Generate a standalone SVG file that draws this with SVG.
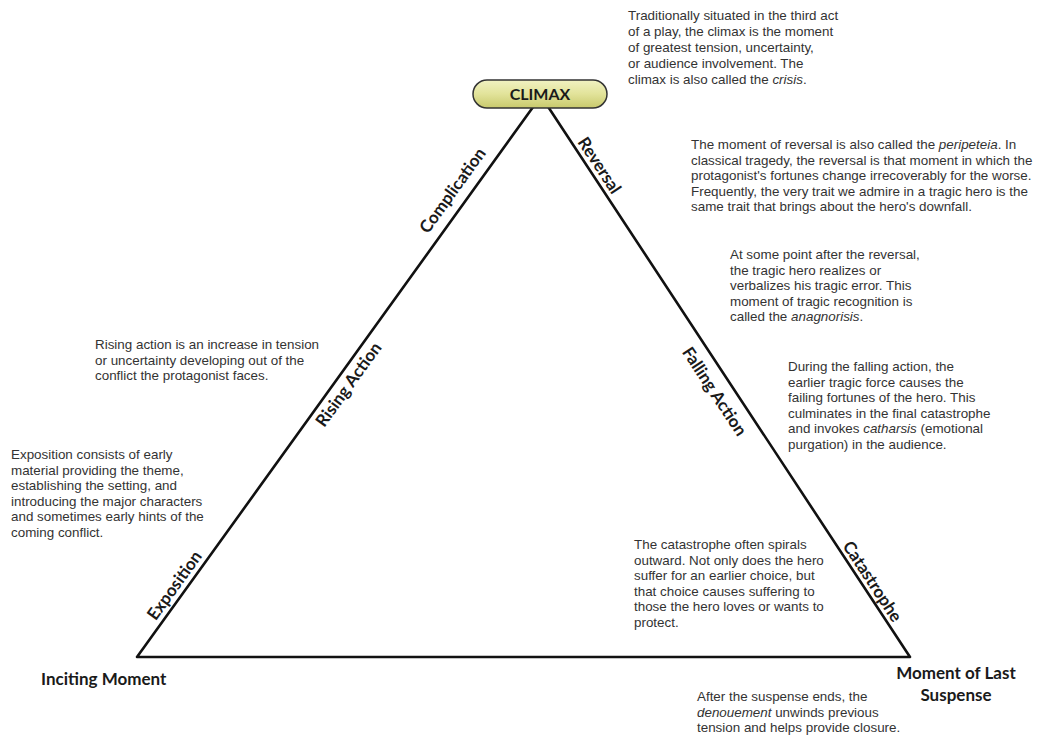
<svg xmlns="http://www.w3.org/2000/svg" width="1042" height="738" viewBox="0 0 1042 738">
<defs>
<linearGradient id="pill" x1="0" y1="0" x2="0" y2="1">
<stop offset="0" stop-color="#f1f2c2"/>
<stop offset="0.5" stop-color="#e2e39a"/>
<stop offset="1" stop-color="#c8c96c"/>
</linearGradient>
<style>
.edge{stroke:#111;stroke-width:2.6;fill:none;stroke-linecap:round;stroke-linejoin:round}
.lbl{font-family:Lato,"Open Sans","DejaVu Sans",sans-serif;font-weight:bold;font-size:17px;fill:#1a1a1a}
.note{font-family:"Liberation Sans",Arial,sans-serif;font-size:13.4px;fill:#333}
.note tspan.i{font-style:italic}
</style>
</defs>
<rect width="1042" height="738" fill="#fff"/>
<g id="connectors">
<path class="edge" d="M137,657 L541,96 L910,657 Z"/>
</g>
<g id="climax">
<rect x="473" y="80" width="134" height="28" rx="14" fill="url(#pill)" stroke="#333" stroke-width="1.5"/>
<text class="lbl" x="540" y="100" text-anchor="middle" style="font-size:16px">CLIMAX</text>
</g>
<g id="label-complication"><text class="lbl" x="0" y="0" text-anchor="middle" dominant-baseline="central" transform="translate(452,190) rotate(-54.2)">Complication</text></g>
<g id="label-rising"><text class="lbl" x="0" y="0" text-anchor="middle" dominant-baseline="central" transform="translate(348,384) rotate(-54.2)">Rising Action</text></g>
<g id="label-exposition"><text class="lbl" x="0" y="0" text-anchor="middle" dominant-baseline="central" transform="translate(174,585) rotate(-54.2)">Exposition</text></g>
<g id="label-reversal"><text class="lbl" x="0" y="0" text-anchor="middle" dominant-baseline="central" transform="translate(600,165) rotate(56.6)">Reversal</text></g>
<g id="label-falling"><text class="lbl" x="0" y="0" text-anchor="middle" dominant-baseline="central" transform="translate(715,391) rotate(56.6)">Falling Action</text></g>
<g id="label-catastrophe"><text class="lbl" x="0" y="0" text-anchor="middle" dominant-baseline="central" transform="translate(873,581) rotate(56.6)">Catastrophe</text></g>
<g id="inciting"><text class="lbl" x="41" y="685">Inciting Moment</text></g>
<g id="last-suspense"><text class="lbl" text-anchor="middle"><tspan x="956" y="679">Moment of Last</tspan><tspan x="956" y="701">Suspense</tspan></text></g>
<g id="note-climax"><text class="note">
<tspan x="628" y="20">Traditionally situated in the third act</tspan>
<tspan x="628" y="36">of a play, the climax is the moment</tspan>
<tspan x="628" y="52">of greatest tension, uncertainty,</tspan>
<tspan x="628" y="68">or audience involvement. The</tspan>
<tspan x="628" y="84">climax is also called the <tspan class="i">crisis</tspan>.</tspan>
</text></g>
<g id="note-reversal"><text class="note">
<tspan x="691" y="149">The moment of reversal is also called the <tspan class="i">peripeteia</tspan>. In</tspan>
<tspan x="691" y="164.5">classical tragedy, the reversal is that moment in which the</tspan>
<tspan x="691" y="180">protagonist's fortunes change irrecoverably for the worse.</tspan>
<tspan x="691" y="195.5">Frequently, the very trait we admire in a tragic hero is the</tspan>
<tspan x="691" y="211">same trait that brings about the hero's downfall.</tspan>
</text></g>
<g id="note-anagnorisis"><text class="note">
<tspan x="730" y="259">At some point after the reversal,</tspan>
<tspan x="730" y="274.5">the tragic hero realizes or</tspan>
<tspan x="730" y="290">verbalizes his tragic error. This</tspan>
<tspan x="730" y="305.5">moment of tragic recognition is</tspan>
<tspan x="730" y="321">called the <tspan class="i">anagnorisis</tspan>.</tspan>
</text></g>
<g id="note-falling"><text class="note">
<tspan x="788" y="371">During the falling action, the</tspan>
<tspan x="788" y="386.5">earlier tragic force causes the</tspan>
<tspan x="788" y="402">failing fortunes of the hero. This</tspan>
<tspan x="788" y="417.5">culminates in the final catastrophe</tspan>
<tspan x="788" y="433">and invokes <tspan class="i">catharsis</tspan> (emotional</tspan>
<tspan x="788" y="448.5">purgation) in the audience.</tspan>
</text></g>
<g id="note-rising"><text class="note">
<tspan x="95" y="349">Rising action is an increase in tension</tspan>
<tspan x="95" y="364.5">or uncertainty developing out of the</tspan>
<tspan x="95" y="380">conflict the protagonist faces.</tspan>
</text></g>
<g id="note-exposition"><text class="note">
<tspan x="11" y="459">Exposition consists of early</tspan>
<tspan x="11" y="474.5">material providing the theme,</tspan>
<tspan x="11" y="490">establishing the setting, and</tspan>
<tspan x="11" y="505.5">introducing the major characters</tspan>
<tspan x="11" y="521">and sometimes early hints of the</tspan>
<tspan x="11" y="536.5">coming conflict.</tspan>
</text></g>
<g id="note-catastrophe"><text class="note">
<tspan x="634" y="549">The catastrophe often spirals</tspan>
<tspan x="634" y="564.5">outward. Not only does the hero</tspan>
<tspan x="634" y="580">suffer for an earlier choice, but</tspan>
<tspan x="634" y="595.5">that choice causes suffering to</tspan>
<tspan x="634" y="611">those the hero loves or wants to</tspan>
<tspan x="634" y="626.5">protect.</tspan>
</text></g>
<g id="note-denouement"><text class="note">
<tspan x="697" y="701">After the suspense ends, the</tspan>
<tspan x="697" y="716.5"><tspan class="i">denouement</tspan> unwinds previous</tspan>
<tspan x="697" y="732">tension and helps provide closure.</tspan>
</text></g>
</svg>
